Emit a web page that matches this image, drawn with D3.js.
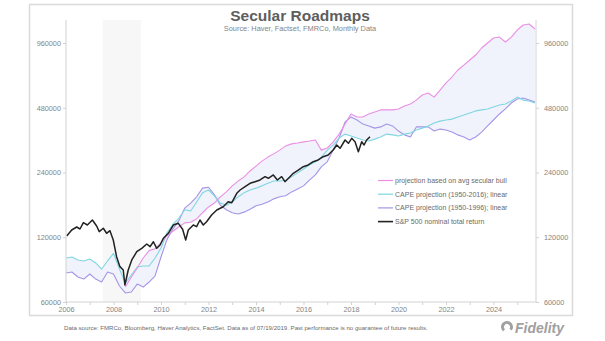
<!DOCTYPE html>
<html>
<head>
<meta charset="utf-8">
<script src="https://cdn.jsdelivr.net/npm/d3@7"></script>
<style>
  body { margin: 0; background: #fff; }
  svg { display: block; }
  text { font-family: "Liberation Sans", Arial, sans-serif; }
</style>
</head>
<body>
<svg width="605" height="341"></svg>
<script>
// quarterly grid for the three projections
let projYears = [
  2006.00, 2006.25, 2006.50, 2006.75, 2007.00, 2007.25, 2007.50, 2007.75,
  2008.00, 2008.25, 2008.50, 2008.75, 2009.00, 2009.25, 2009.50, 2009.75,
  2010.00, 2010.25, 2010.50, 2010.75, 2011.00, 2011.25, 2011.50, 2011.75,
  2012.00, 2012.25, 2012.50, 2012.75, 2013.00, 2013.25, 2013.50, 2013.75,
  2014.00, 2014.25, 2014.50, 2014.75, 2015.00, 2015.25, 2015.50, 2015.75,
  2016.00, 2016.25, 2016.50, 2016.75, 2017.00, 2017.25, 2017.50, 2017.75,
  2018.00, 2018.25, 2018.50, 2018.75, 2019.00, 2019.25, 2019.50, 2019.75,
  2020.00, 2020.25, 2020.50, 2020.75, 2021.00, 2021.25, 2021.50, 2021.75,
  2022.00, 2022.25, 2022.50, 2022.75, 2023.00, 2023.25, 2023.50, 2023.75,
  2024.00, 2024.25, 2024.50, 2024.75, 2025.00, 2025.25, 2025.50, 2025.75
]

// projection based on avg secular bull (starts at the 2009 low)
let bullProj = [
  null, null, null, null, null, null, null, null,
  null, null, 70400, 78400, 86300, 96100, 104000, 106000,
  113000, 122000, 128000, 134000, 140000, 141000, 146000, 156000,
  166000, 173000, 185000, 195000, 208000, 219000, 229000, 244000,
  257000, 271000, 283000, 293000, 305000, 319000, 326000, 329000,
  333000, 336000, 340000, 305000, 312000, 333000, 362000, 403000,
  449000, 435000, 435000, 449000, 459000, 469000, 469000, 469000,
  474000, 489000, 500000, 521000, 550000, 562000, 538000, 580000,
  626000, 667000, 719000, 758000, 800000, 844000, 910000, 960000,
  1013000, 1023000, 970000, 1023000, 1103000, 1164000, 1176000, 1115000
]

// CAPE projection (1950-2016); linear
let cape2016 = [
  96100, 97100, 94100, 93100, 95100, 91100, 85400, 93100,
  101000, 85400, 73500, 80100, 87300, 88200, 88200, 96100,
  107000, 126000, 138000, 147000, 161000, 159000, 175000, 193000,
  199000, 187000, 173000, 169000, 175000, 185000, 193000, 199000,
  203000, 208000, 214000, 219000, 219000, 221000, 229000, 239000,
  249000, 260000, 269000, 283000, 305000, 322000, 347000, 362000,
  355000, 347000, 340000, 336000, 343000, 351000, 362000, 359000,
  355000, 362000, 366000, 378000, 386000, 395000, 408000, 416000,
  421000, 425000, 435000, 444000, 454000, 464000, 469000, 474000,
  484000, 494000, 500000, 516000, 538000, 521000, 516000, 505000
]

// CAPE projection (1950-1996); linear
let cape1996 = [
  81800, 82700, 78400, 76700, 81000, 76700, 74300, 82700,
  81000, 71200, 66100, 66800, 72700, 70400, 74300, 79300,
  97100, 117000, 131000, 143000, 164000, 173000, 185000, 203000,
  205000, 189000, 169000, 161000, 156000, 154000, 157000, 162000,
  168000, 171000, 175000, 181000, 185000, 187000, 195000, 201000,
  208000, 221000, 234000, 255000, 269000, 305000, 347000, 412000,
  435000, 421000, 403000, 395000, 386000, 391000, 403000, 395000,
  374000, 359000, 351000, 391000, 391000, 391000, 374000, 382000,
  378000, 370000, 359000, 351000, 340000, 351000, 370000, 395000,
  421000, 449000, 474000, 505000, 527000, 533000, 521000, 510000
]

// S&P 500 nominal total return
let spxYears = [
  2006.03, 2006.24, 2006.45, 2006.59, 2006.73, 2006.90, 2007.11, 2007.29,
  2007.40, 2007.57, 2007.71, 2007.85, 2007.99, 2008.13, 2008.27, 2008.41,
  2008.48, 2008.62, 2008.77, 2008.98, 2009.19, 2009.40, 2009.54, 2009.68,
  2009.82, 2009.96, 2010.10, 2010.31, 2010.52, 2010.73, 2010.91, 2011.04,
  2011.15, 2011.36, 2011.50, 2011.64, 2011.78, 2011.92, 2012.13, 2012.35,
  2012.62, 2012.83, 2012.98, 2013.19, 2013.33, 2013.54, 2013.75, 2013.96,
  2014.17, 2014.38, 2014.52, 2014.73, 2014.90, 2015.08, 2015.22, 2015.43,
  2015.57, 2015.78, 2015.99, 2016.20, 2016.41, 2016.62, 2016.83, 2017.04,
  2017.25, 2017.40, 2017.54, 2017.75, 2017.89, 2018.03, 2018.17, 2018.31,
  2018.45, 2018.55, 2018.66, 2018.80
]
let spxValues = [
  121600, 129700, 133900, 131100, 140200, 136800, 144300, 135400,
  127400, 132100, 125200, 128700, 116500, 97400, 87600, 84500,
  72000, 84500, 94100, 102800, 106600, 111600, 108500, 114400,
  106600, 110400, 118700, 125200, 136800, 139300, 130700, 116500,
  129700, 136800, 134400, 144300, 136800, 141700, 152300, 160600,
  166400, 175600, 173700, 192100, 199000, 206200, 213800, 217500,
  221500, 229500, 225600, 233700, 221500, 229500, 217500, 229500,
  238000, 246500, 255400, 260100, 269400, 274400, 284200, 289400,
  305400, 322200, 311000, 339900, 328100, 346100, 333700, 299900,
  333700, 322200, 339900, 352100
]

let yTicks = [60000, 120000, 240000, 480000, 960000]
let xTickYears = [2006, 2007, 2008, 2009, 2010, 2011, 2012, 2013, 2014, 2015,
  2016, 2017, 2018, 2019, 2020, 2021, 2022, 2023, 2024, 2025]
let recession = [2007.55, 2009.15]

let legendItems = [
  { name: "projection based on avg secular bull", color: "#e98fe6", width: 1.2 },
  { name: "CAPE projection (1950-2016); linear", color: "#7fd6e2", width: 1.2 },
  { name: "CAPE projection (1950-1996); linear", color: "#a495e6", width: 1.2 },
  { name: "S&P 500 nominal total return", color: "#222222", width: 1.6 }
]

let plotL = 66, plotR = 536, plotT = 20, plotB = 302

let svg = d3.select("svg")
let x = d3.scaleLinear().domain([2006, 2026]).range([66, 541])
let y = d3.scaleLog().domain([60000, 960000]).range([302, 43])

// outer frame
svg.append("rect")
  .attr("x", 29.5).attr("y", 4.5).attr("width", 543).attr("height", 311)
  .attr("fill", "none").attr("stroke", "#dadada").attr("stroke-width", 1.5)

svg.append("defs").append("clipPath").attr("id", "plot")
  .append("rect").attr("x", plotL).attr("y", plotT)
  .attr("width", plotR - plotL).attr("height", plotB - plotT)

let g = svg.append("g").attr("clip-path", "url(#plot)")

// recession shading
g.append("rect")
  .attr("x", x(recession[0])).attr("y", plotT)
  .attr("width", x(recession[1]) - x(recession[0])).attr("height", plotB - plotT)
  .attr("fill", "#f7f7f8")

// band between the projections
let proj = projYears.map((yr, i) => {
  let vals = [bullProj[i], cape2016[i], cape1996[i]].filter(v => v != null)
  return { yr: yr, lo: d3.min(vals), hi: d3.max(vals) }
})
g.append("path")
  .datum(proj)
  .attr("fill", "#f0f3fb")
  .attr("d", d3.area().x(d => x(d.yr)).y0(d => y(d.lo)).y1(d => y(d.hi)))

// axes
let axisColor = "#d2d2d2", labelColor = "#858585"
svg.append("line").attr("x1", plotL).attr("x2", plotL).attr("y1", plotT).attr("y2", plotB)
  .attr("stroke", axisColor)
svg.append("line").attr("x1", plotR).attr("x2", plotR).attr("y1", plotT).attr("y2", plotB)
  .attr("stroke", axisColor)
svg.append("line").attr("x1", plotL).attr("x2", plotR).attr("y1", plotB).attr("y2", plotB)
  .attr("stroke", axisColor)

function styleAxis(sel) {
  sel.select(".domain").remove()
  sel.selectAll(".tick line").attr("stroke", axisColor)
  sel.selectAll(".tick text").attr("fill", labelColor)
    .style("font-size", "7.3px").style("font-family", '"Liberation Sans", Arial, sans-serif')
}

svg.append("g").attr("transform", `translate(${plotL},0)`)
  .call(d3.axisLeft(y).tickValues(yTicks).tickFormat(d3.format("d")).tickSize(3).tickPadding(2))
  .call(styleAxis)
svg.append("g").attr("transform", `translate(${plotR},0)`)
  .call(d3.axisRight(y).tickValues(yTicks).tickFormat(d3.format("d")).tickSize(3).tickPadding(5))
  .call(styleAxis)
svg.append("g").attr("transform", `translate(0,${plotB})`)
  .call(d3.axisBottom(x).tickValues(xTickYears).tickFormat(d => d % 2 === 0 ? d : "").tickSize(3).tickPadding(2))
  .call(styleAxis)

// lines
let projLine = d3.line().defined(d => d[1] != null).x(d => x(d[0])).y(d => y(d[1]))
let series = [cape1996, cape2016, bullProj]
let colors = [legendItems[2].color, legendItems[1].color, legendItems[0].color]
series.forEach((s, i) => {
  g.append("path")
    .datum(projYears.map((yr, j) => [yr, s[j]]))
    .attr("fill", "none").attr("stroke", colors[i]).attr("stroke-width", 1.1)
    .attr("stroke-linejoin", "round")
    .attr("d", projLine)
})
g.append("path")
  .datum(spxYears.map((yr, j) => [yr, spxValues[j]]))
  .attr("fill", "none").attr("stroke", legendItems[3].color).attr("stroke-width", 1.5)
  .attr("stroke-linejoin", "round")
  .attr("d", projLine)

// legend
let leg = svg.append("g").attr("transform", "translate(378,183)")
legendItems.forEach((it, i) => {
  leg.append("line").attr("x1", 0).attr("x2", 15).attr("y1", i * 13.7 - 2.5).attr("y2", i * 13.7 - 2.5)
    .attr("stroke", it.color).attr("stroke-width", it.width)
  leg.append("text").attr("x", 17).attr("y", i * 13.7)
    .attr("fill", "#6a6a6a").style("font-size", "7px").text(it.name)
})

// titles
svg.append("text").attr("x", 300).attr("y", 21).attr("text-anchor", "middle")
  .attr("fill", "#5e5e5e").style("font-size", "15.5px").style("font-weight", "bold")
  .text("Secular Roadmaps")
svg.append("text").attr("x", 300).attr("y", 31).attr("text-anchor", "middle")
  .attr("fill", "#858585").style("font-size", "7.4px")
  .text("Source: Haver, Factset, FMRCo, Monthly Data")

// footer
svg.append("text").attr("x", 64).attr("y", 330)
  .attr("fill", "#6a6a6a").style("font-size", "6.1px")
  .text("Data source: FMRCo, Bloomberg, Haver Analytics, FactSet. Data as of 07/19/2019. Past performance is no guarantee of future results.")

// Fidelity mark
let logo = svg.append("g").attr("transform", "translate(507,327)")
logo.append("path")
  .attr("d", d3.arc().innerRadius(3).outerRadius(6).startAngle(-2.4).endAngle(2.2)())
  .attr("fill", "#a0a0a0")
logo.append("text").attr("x", 8).attr("y", 5.5)
  .attr("fill", "#a0a0a0").style("font-size", "14px").style("font-weight", "bold")
  .style("font-style", "italic").text("Fidelity")
</script>
</body>
</html>
